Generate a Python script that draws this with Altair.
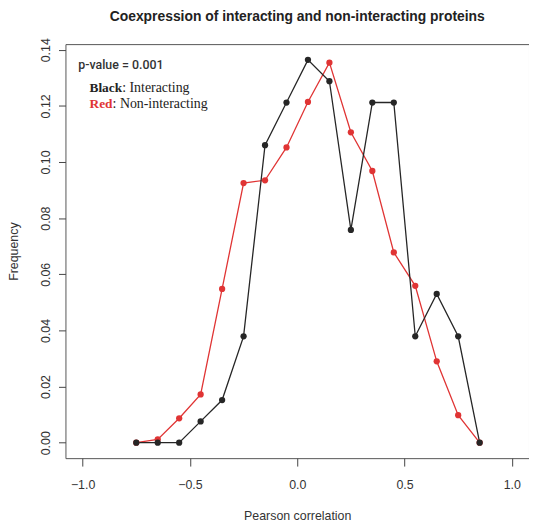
import altair as alt
import pandas as pd

TITLE = "Coexpression of interacting and non-interacting proteins"

# Bin centres (Pearson correlation)
x_vals = [-0.75, -0.65, -0.55, -0.45, -0.35, -0.25, -0.15, -0.05, 0.05,
          0.15, 0.25, 0.35, 0.45, 0.55, 0.65, 0.75, 0.85]
# Interacting (black)
interacting = [0.0, 0.0, 0.0, 0.0076, 0.0152, 0.0379, 0.1060, 0.1212, 0.1364,
               0.1288, 0.0758, 0.1212, 0.1212, 0.0379, 0.0530, 0.0379, 0.0]
# Non-interacting (red)
non_interacting = [0.0, 0.0012, 0.0087, 0.0172, 0.0548, 0.0925, 0.0935, 0.1052, 0.1214,
                   0.1354, 0.1106, 0.0968, 0.0678, 0.0559, 0.0290, 0.0098, 0.0]

x_ticks = [-1.0, -0.5, 0.0, 0.5, 1.0]
y_ticks = [0.0, 0.02, 0.04, 0.06, 0.08, 0.10, 0.12, 0.14]

BLACK = "#262626"
RED = "#e03434"

rows = []
for xv, yv in zip(x_vals, non_interacting):
    rows.append({"x": xv, "y": yv, "group": "Non-interacting"})
for xv, yv in zip(x_vals, interacting):
    rows.append({"x": xv, "y": yv, "group": "Interacting"})
df = pd.DataFrame(rows)

xscale = alt.Scale(domain=[-1.08, 1.08], nice=False, zero=False)
yscale = alt.Scale(domain=[-0.0055, 0.142], nice=False, zero=False)
cscale = alt.Scale(domain=["Interacting", "Non-interacting"], range=[BLACK, RED])

xenc = alt.X("x:Q", scale=xscale, title="Pearson correlation",
             axis=alt.Axis(values=x_ticks, format=".1f", grid=False, domain=False,
                           tickSize=8, tickColor="#444444", labelPadding=13,
                           labelFont="Liberation Sans", labelFontSize=12.5,
                           labelColor="#333333", titleFont="Liberation Sans",
                           titleFontSize=12.5, titleFontWeight="normal",
                           titleColor="#333333", titlePadding=18))
yenc = alt.Y("y:Q", scale=yscale, title="Frequency",
             axis=alt.Axis(values=y_ticks, format=".2f", grid=False, domain=False,
                           tickSize=7, tickColor="#444444", labelAngle=270,
                           labelAlign="center", labelBaseline="bottom", labelPadding=6,
                           labelFont="Liberation Sans", labelFontSize=12.5,
                           labelColor="#333333", titleFont="Liberation Sans",
                           titleFontSize=12.5, titleFontWeight="normal",
                           titleColor="#333333", titlePadding=19))
color = alt.Color("group:N", scale=cscale, legend=None)

lines = alt.Chart(df).mark_line(strokeWidth=1.3).encode(
    x=xenc, y=yenc, color=color, detail="group:N")
points = alt.Chart(df).mark_circle(size=40, opacity=1).encode(
    x="x:Q", y="y:Q", color=color)

# Annotations (positioned in data space)
ann = pd.DataFrame({
    "x": [-1.02, -0.968, -0.968, -0.968, -0.968],
    "y": [0.1345, 0.1262, 0.1262, 0.1205, 0.1205],
    "t": ["p-value = 0.001", "Black", ": Interacting", "Red", ": Non-interacting"],
    "k": ["p", "bb", "bn", "rb", "rn"],
})
p_text = alt.Chart(ann[ann.k == "p"]).mark_text(
    align="left", baseline="middle", font="Roboto", fontSize=12.5,
    fontWeight=500, color="#333333").encode(x="x:Q", y="y:Q", text="t:N")
black_b = alt.Chart(ann[ann.k == "bb"]).mark_text(
    align="left", baseline="middle", font="Liberation Serif", fontSize=13.5,
    fontWeight="bold", color="#222222").encode(x="x:Q", y="y:Q", text="t:N")
black_n = alt.Chart(ann[ann.k == "bn"]).mark_text(
    align="left", baseline="middle", font="Liberation Serif", fontSize=14,
    dx=33, color="#222222").encode(x="x:Q", y="y:Q", text="t:N")
red_b = alt.Chart(ann[ann.k == "rb"]).mark_text(
    align="left", baseline="middle", font="Liberation Serif", fontSize=13.5,
    fontWeight="bold", color=RED).encode(x="x:Q", y="y:Q", text="t:N")
red_n = alt.Chart(ann[ann.k == "rn"]).mark_text(
    align="left", baseline="middle", font="Liberation Serif", fontSize=14,
    dx=23.3, color="#222222").encode(x="x:Q", y="y:Q", text="t:N")

title_mark = alt.Chart(pd.DataFrame({"t": [TITLE]})).mark_text(
    align="center", baseline="alphabetic", font="Liberation Sans", fontSize=14,
    fontWeight="bold", color="#222222").encode(
    x=alt.value(234), y=alt.value(-23.5), text="t:N")

chart = alt.layer(lines, points, p_text, black_b, black_n, red_b, red_n,
                  title_mark).properties(
    width=468, height=418,
    autosize=alt.AutoSizeParams(type="none"),
    padding={"left": 58, "top": 34, "right": 0, "bottom": 64},
).configure_view(stroke="#555555", strokeWidth=1)

chart.save("out.html", embed_options={"renderer": "svg", "actions": False})
